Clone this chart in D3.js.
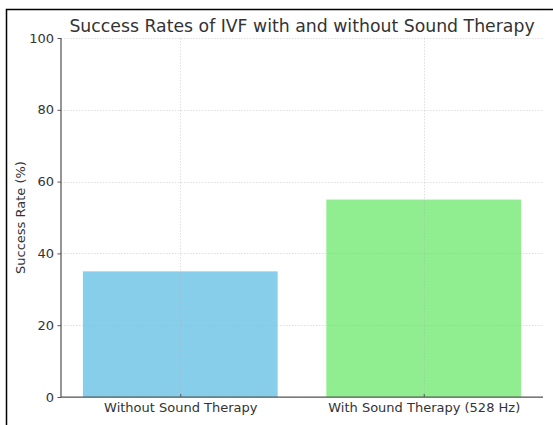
<!DOCTYPE html>
<html>
<head>
<meta charset="utf-8">
<script src="https://cdn.jsdelivr.net/npm/d3@7"></script>
<style>
  body { margin: 0; background: #fff; }
  svg { display: block; font-family: "DejaVu Sans", sans-serif; }
</style>
</head>
<body>
<svg id="chart" width="553" height="425"></svg>
<script>
// chart data
var categories = ["Without Sound Therapy", "With Sound Therapy (528 Hz)"];
var rates = [35, 55];
var barColors = ["#87ceeb", "#90ee90"];
var yTicks = [0, 20, 40, 60, 80, 100];

var svg = d3.select("#chart");
var plotL = 61, plotR = 543, plotT = 38, plotB = 397;

// figure frame (top/left edges visible in the screenshot)
svg.append("path")
    .attr("d", "M6.5,425 V9.5 H553")
    .attr("fill", "none")
    .attr("stroke", "#000")
    .attr("stroke-width", 1.5);

// matplotlib-like x range: -0.49 .. 1.49, bar width 0.8
var x = d3.scaleLinear().domain([-0.49, 1.49]).range([plotL, plotR]);
var y = d3.scaleLinear().domain([0, 100]).range([plotB, plotT]);
var bw = x(0.8) - x(0);

svg.selectAll("rect.bar")
    .data(rates)
    .enter().append("rect")
    .attr("class", "bar")
    .attr("x", function(d, i) { return x(i) - bw / 2; })
    .attr("y", function(d) { return y(d); })
    .attr("width", bw)
    .attr("height", function(d) { return y(0) - y(d); })
    .attr("fill", function(d, i) { return barColors[i]; });

// grid on top of bars
var grid = svg.append("g")
    .attr("stroke", "#b0b0b0")
    .attr("stroke-opacity", 0.5)
    .attr("stroke-width", 0.8)
    .attr("stroke-dasharray", "1.5,1.5");
grid.selectAll("line.h")
    .data(yTicks)
    .enter().append("line")
    .attr("x1", plotL).attr("x2", plotR)
    .attr("y1", function(d) { return Math.round(y(d)) + 0.5; })
    .attr("y2", function(d) { return Math.round(y(d)) + 0.5; });
grid.selectAll("line.v")
    .data(categories)
    .enter().append("line")
    .attr("x1", function(d, i) { return Math.round(x(i)) + 0.5; })
    .attr("x2", function(d, i) { return Math.round(x(i)) + 0.5; })
    .attr("y1", plotT).attr("y2", plotB);

// axes
var yAxis = d3.axisLeft(y).tickValues(yTicks).tickSize(3.5).tickPadding(3.5);
var xAxis = d3.axisBottom(x).tickValues([0, 1])
    .tickFormat(function(d) { return categories[d]; })
    .tickSize(-3).tickPadding(6);

var gy = svg.append("g").attr("transform", "translate(" + plotL + ",0)").call(yAxis);
var gx = svg.append("g").attr("transform", "translate(0," + plotB + ")").call(xAxis);

[gy, gx].forEach(function(g) {
  g.select(".domain").attr("stroke", "#555").attr("stroke-width", 1.25);
  g.selectAll(".tick line").attr("stroke", "#555");
  g.selectAll(".tick text").attr("fill", "#333").style("font-size", "13px")
      .style("font-family", "DejaVu Sans, sans-serif");
});
// plain spines without end caps
gy.select(".domain").attr("d", "M0," + plotT + "V" + plotB);
gx.select(".domain").attr("d", "M" + plotL + ",0H" + plotR);

// title and y label
svg.append("text")
    .attr("x", (plotL + plotR) / 2)
    .attr("y", 32)
    .attr("text-anchor", "middle")
    .attr("fill", "#333")
    .style("font-size", "17.3px")
    .text("Success Rates of IVF with and without Sound Therapy");

svg.append("text")
    .attr("transform", "translate(25," + (plotT + plotB) / 2 + ") rotate(-90)")
    .attr("text-anchor", "middle")
    .attr("fill", "#333")
    .style("font-size", "13px")
    .text("Success Rate (%)");
</script>
</body>
</html>
